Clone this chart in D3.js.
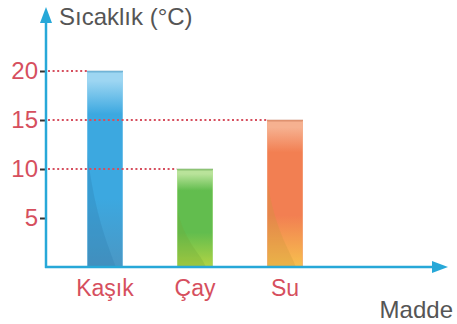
<!DOCTYPE html>
<html>
<head>
<meta charset="utf-8">
<script src="https://cdn.jsdelivr.net/npm/d3@7"></script>
<style>
  html, body { margin: 0; padding: 0; background: #fff; }
  svg { display: block; }
  text { font-family: "Liberation Sans", Arial, sans-serif; }
</style>
</head>
<body>
<svg id="chart" width="457" height="324"></svg>
<script>
// Temperature of each substance
const categories = ["Kaşık", "Çay", "Su"];
const values = [20, 10, 15];
const yTicks = [5, 10, 15, 20];
const yTitle = "Sıcaklık (°C)";
const xTitle = "Madde";

// Per-bar colour stops: top highlight, body, bottom
const barColors = [
  ["#9dd6f2", "#3ca8e0", "#4a97c4"],
  ["#b9e39a", "#62bd4e", "#b2d444"],
  ["#f6b190", "#f27f52", "#f7c04e"]
];
const shadeColors = ["#2f7fae", "#6fa838", "#c9973a"];

const svg = d3.select("#chart");
const x0 = 46, y0 = 267;

const x = d3.scalePoint().domain(categories).range([105, 285]);
const barW = 36;
const y = d3.scaleLinear().domain([0, 20]).range([y0, 71]);

const axisColor = "#27a8d8";
const red = "#d64f5e";

// Gradients
const defs = svg.append("defs");
categories.forEach((c, i) => {
  const g = defs.append("linearGradient").attr("id", "g" + i)
    .attr("x1", 0).attr("y1", 0).attr("x2", 0).attr("y2", 1);
  g.append("stop").attr("offset", "0%").attr("stop-color", barColors[i][0]);
  g.append("stop").attr("offset", "5%").attr("stop-color", barColors[i][0]);
  g.append("stop").attr("offset", "22%").attr("stop-color", barColors[i][1]);
  g.append("stop").attr("offset", "65%").attr("stop-color", barColors[i][1]);
  g.append("stop").attr("offset", "100%").attr("stop-color", barColors[i][2]);
  defs.append("clipPath").attr("id", "c" + i)
    .append("rect")
    .attr("x", x(c) - barW / 2).attr("y", y(values[i]))
    .attr("width", barW).attr("height", y0 - y(values[i]));
});

// Bars
const bars = svg.append("g");
categories.forEach((c, i) => {
  const bx = x(c) - barW / 2, by = y(values[i]), bh = y0 - by;
  bars.append("rect")
    .attr("x", bx).attr("y", by).attr("width", barW).attr("height", bh)
    .attr("fill", `url(#g${i})`);
  // soft curved shading in the lower-left of each bar
  bars.append("path")
    .attr("clip-path", `url(#c${i})`)
    .attr("d", `M${bx} ${by + bh * 0.4} C ${bx + barW * 0.2} ${by + bh * 0.75}, ${bx + barW * 0.7} ${y0 - 12}, ${bx + barW * 0.8} ${y0} L ${bx} ${y0} Z`)
    .attr("fill", shadeColors[i]).attr("opacity", 0.3);
  // thin top edge
  bars.append("line")
    .attr("x1", bx).attr("x2", bx + barW)
    .attr("y1", by + 0.5).attr("y2", by + 0.5)
    .attr("stroke", d3.color(barColors[i][1]).darker(0.7)).attr("stroke-width", 1.5)
    .attr("opacity", 0.8);
  // faint outline
  bars.append("rect")
    .attr("x", bx + 0.5).attr("y", by + 0.5).attr("width", barW - 1).attr("height", bh - 1)
    .attr("fill", "none").attr("stroke", barColors[i][0]).attr("stroke-width", 1).attr("opacity", 0.5);
});

// Dotted guide lines from the axis to the top of each bar
const guides = svg.append("g");
categories.forEach((c, i) => {
  guides.append("line")
    .attr("x1", x0 + 2).attr("x2", x(c) - barW / 2)
    .attr("y1", y(values[i])).attr("y2", y(values[i]))
    .attr("stroke", red).attr("stroke-width", 1.8)
    .attr("stroke-dasharray", "2,2.6");
});

// Y axis
const yAxis = d3.axisLeft(y).tickValues(yTicks).tickSize(6).tickPadding(2);
const ya = svg.append("g").attr("transform", `translate(${x0},0)`).call(yAxis);
ya.select(".domain").remove();
ya.selectAll(".tick line").attr("stroke", "#333").attr("stroke-width", 2);
ya.selectAll(".tick text")
  .attr("fill", red).attr("font-size", 24)
  .attr("font-family", "Liberation Sans, Arial, sans-serif");

// Axis lines with arrowheads
svg.append("line").attr("x1", x0).attr("x2", x0).attr("y1", y0 + 1).attr("y2", 20)
  .attr("stroke", axisColor).attr("stroke-width", 2.5);
svg.append("path").attr("d", `M${x0} 7 L${x0 + 6} 23 L${x0 - 6} 23 Z`).attr("fill", axisColor);
svg.append("line").attr("x1", x0 - 1).attr("x2", 434).attr("y1", y0).attr("y2", y0)
  .attr("stroke", axisColor).attr("stroke-width", 2.5);
svg.append("path").attr("d", `M448 ${y0} L432 ${y0 - 6} L432 ${y0 + 6} Z`).attr("fill", axisColor);

// Category labels
svg.append("g").selectAll("text").data(categories).join("text")
  .attr("x", d => x(d)).attr("y", 296)
  .attr("text-anchor", "middle")
  .attr("font-size", 23).attr("fill", red)
  .text(d => d);

// Axis titles
svg.append("text").attr("x", 59).attr("y", 25)
  .attr("font-size", 24).attr("fill", "#555").text(yTitle);
svg.append("text").attr("x", 453).attr("y", 318)
  .attr("text-anchor", "end")
  .attr("font-size", 24).attr("fill", "#555").text(xTitle);
</script>
</body>
</html>
